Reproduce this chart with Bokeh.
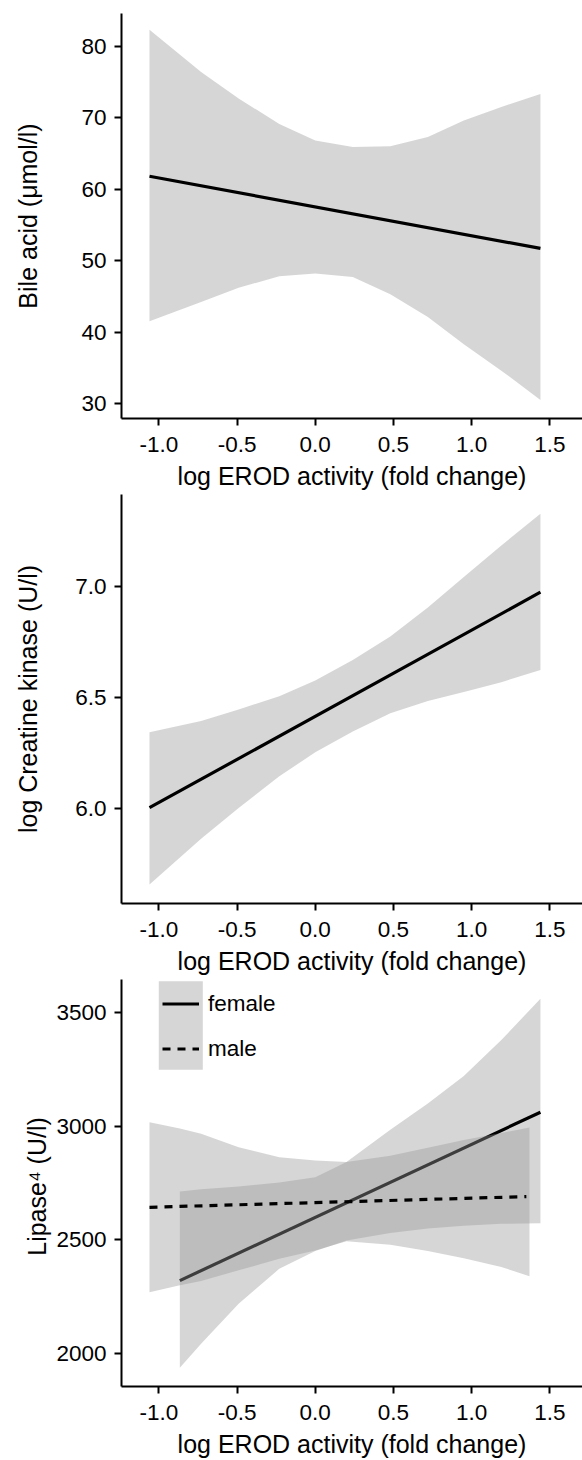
from bokeh.plotting import figure
from bokeh.layouts import column
from bokeh.models import Range1d, Label, Legend, LegendItem, FixedTicker, BoxAnnotation
from bokeh.embed import file_html
from bokeh.resources import INLINE

FONT = "Liberation Sans"
BAND = "#999999"

# shared x axis
x_ticks = [-1.0, -0.5, 0.0, 0.5, 1.0, 1.5]
x_tick_labels = ["-1.0", "-0.5", "0.0", "0.5", "1.0", "1.5"]
x_title = "log EROD activity (fold change)"
X_START, X_END = -1.239, 1.709
FRAME_LEFT = 121
FRAME_W = 582 - FRAME_LEFT

# A: bile acid
a_x = [-1.06, -0.73, -0.49, -0.23, 0.0, 0.24, 0.48, 0.72, 0.95, 1.19, 1.44]
a_upper = [82.3, 76.4, 72.7, 69.1, 66.8, 65.9, 66.0, 67.3, 69.6, 71.5, 73.3]
a_lower = [41.5, 44.2, 46.2, 47.8, 48.2, 47.7, 45.3, 42.1, 38.3, 34.6, 30.5]
a_fit_x = [-1.06, 1.44]
a_fit_y = [61.8, 51.7]
a_ticks = [30, 40, 50, 60, 70, 80]
a_tick_labels = ["30", "40", "50", "60", "70", "80"]

# B: creatine kinase
b_x = [-1.06, -0.73, -0.49, -0.23, 0.0, 0.24, 0.48, 0.72, 0.95, 1.19, 1.44]
b_upper = [6.344, 6.395, 6.446, 6.506, 6.576, 6.669, 6.774, 6.904, 7.041, 7.183, 7.325]
b_lower = [5.660, 5.866, 6.004, 6.146, 6.254, 6.347, 6.429, 6.484, 6.525, 6.569, 6.624]
b_fit_x = [-1.06, 1.44]
b_fit_y = [6.005, 6.973]
b_ticks = [6.0, 6.5, 7.0]
b_tick_labels = ["6.0", "6.5", "7.0"]

# C: lipase by sex
f_x = [-0.866, -0.73, -0.49, -0.23, 0.0, 0.2, 0.48, 0.72, 0.95, 1.19, 1.44]
f_upper = [2712, 2722, 2735, 2752, 2775, 2842, 2985, 3100, 3222, 3380, 3562]
f_lower = [1936, 2042, 2218, 2372, 2450, 2497, 2530, 2550, 2562, 2570, 2573]
f_fit_x = [-0.866, 1.44]
f_fit_y = [2320, 3062]
m_x = [-1.06, -0.866, -0.73, -0.49, -0.23, 0.0, 0.2, 0.48, 0.72, 0.95, 1.19, 1.37]
m_upper = [3018, 2990, 2967, 2908, 2864, 2849, 2842, 2870, 2905, 2940, 2970, 2995]
m_lower = [2269, 2299, 2318, 2365, 2416, 2453, 2493, 2478, 2450, 2418, 2380, 2339]
m_fit_x = [-1.06, 1.35]
m_fit_y = [2643, 2690]
c_ticks = [2000, 2500, 3000, 3500]
c_tick_labels = ["2000", "2500", "3000", "3500"]
sex_labels = ["female", "male"]


def make_panel(height, border_top, border_bottom, y_start, y_end, ticks, tick_labels,
               y_title, title_standoff, letter, letter_base_px):
    p = figure(width=582, height=height, output_backend="svg", toolbar_location=None,
               x_range=Range1d(X_START, X_END), y_range=Range1d(y_start, y_end),
               min_border_left=FRAME_LEFT, min_border_right=0,
               min_border_top=border_top, min_border_bottom=border_bottom)
    p.outline_line_color = None
    p.grid.visible = False
    for ax in (p.xaxis[0], p.yaxis[0]):
        ax.axis_line_width = 2
        ax.axis_line_color = "black"
        ax.major_tick_line_width = 2
        ax.major_tick_line_color = "black"
        ax.major_tick_out = 7
        ax.major_tick_in = 0
        ax.minor_tick_line_color = None
        ax.major_label_text_font = FONT
        ax.major_label_text_font_size = "22.5px"
        ax.major_label_text_color = "black"
        ax.axis_label_text_font = FONT
        ax.axis_label_text_font_size = "25px"
        ax.axis_label_text_font_style = "normal"
        ax.axis_label_text_color = "black"
    xa = p.xaxis[0]
    xa.ticker = FixedTicker(ticks=x_ticks)
    xa.major_label_overrides = dict(zip(x_ticks, x_tick_labels))
    xa.major_label_standoff = 11
    xa.axis_label = x_title
    xa.axis_label_standoff = 7
    ya = p.yaxis[0]
    ya.ticker = FixedTicker(ticks=ticks)
    ya.major_label_overrides = dict(zip(ticks, tick_labels))
    ya.major_label_standoff = 8
    ya.axis_label = y_title
    ya.axis_label_standoff = title_standoff

    frame_h = height - border_top - border_bottom
    sx = (X_END - X_START) / FRAME_W
    sy = (y_end - y_start) / frame_h

    # pixel offsets (from the figure's top-left corner) to data coordinates
    def to_data(px, py):
        return X_START + (px - FRAME_LEFT) * sx, y_end - (py - border_top) * sy

    lx, ly = to_data(14, letter_base_px)
    p.add_layout(Label(x=lx, y=ly, text=letter, text_font=FONT, text_font_size="23px",
                       text_font_style="bold", text_color="black",
                       text_baseline="alphabetic", text_align="left"))
    return p, to_data


pa, _ = make_panel(493, 13, 75, 27.9, 84.58, a_ticks, a_tick_labels,
                   "Bile acid (\u03bcmol/l)", 36, "A", 39.3)
pa.varea(x=a_x, y1=a_lower, y2=a_upper, fill_color=BAND, fill_alpha=0.4)
pa.line(x=a_fit_x, y=a_fit_y, line_color="black", line_width=3.2)

pb, _ = make_panel(485, 1, 75, 5.5746, 7.412, b_ticks, b_tick_labels,
                   "log Creatine kinase (U/l)", 30, "B", 30.3)
pb.varea(x=b_x, y1=b_lower, y2=b_upper, fill_color=BAND, fill_alpha=0.4)
pb.line(x=b_fit_x, y=b_fit_y, line_color="black", line_width=3.2)

pc, c_to_data = make_panel(482, 1, 74, 1853.3, 3646.7, c_ticks, c_tick_labels,
                           "Lipase\u2074  (U/l)", 2, "C", 28.5)
fb = pc.varea(x=f_x, y1=f_lower, y2=f_upper, fill_color=BAND, fill_alpha=0.4)
fl = pc.line(x=f_fit_x, y=f_fit_y, line_color="black", line_width=3.2)
mb = pc.varea(x=m_x, y1=m_lower, y2=m_upper, fill_color=BAND, fill_alpha=0.4)
ml = pc.line(x=m_fit_x, y=m_fit_y, line_color="black", line_width=3.2, line_dash="8 7")

# grey key background behind both legend entries
kx0, ky0 = c_to_data(158.3, 2.7)
kx1, ky1 = c_to_data(202.3, 91.3)
pc.add_layout(BoxAnnotation(left=kx0, right=kx1, top=ky0, bottom=ky1,
                            fill_color=BAND, fill_alpha=0.4, line_color=None))

legend = Legend(items=[LegendItem(label=sex_labels[0], renderers=[fl]),
                       LegendItem(label=sex_labels[1], renderers=[ml])],
                location=(41, 315), orientation="vertical",
                glyph_width=37, glyph_height=45, label_height=45,
                label_standoff=9, spacing=0, padding=0, margin=0,
                border_line_color=None, background_fill_alpha=0,
                label_text_font=FONT, label_text_font_size="22.5px",
                label_text_color="black")
pc.add_layout(legend)

layout = column(pa, pb, pc, spacing=0)
open("out.html", "w").write(file_html(layout, INLINE))
